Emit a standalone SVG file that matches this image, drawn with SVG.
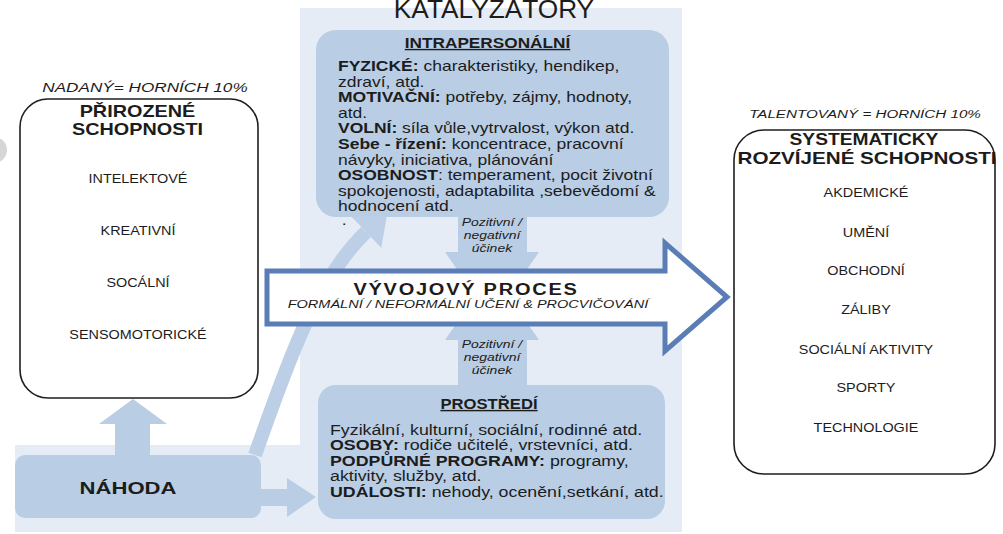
<svg xmlns="http://www.w3.org/2000/svg" width="1003" height="534" viewBox="0 0 1003 534">
<style>
.t{font-family:"Liberation Sans",Arial,sans-serif;fill:#1c1c1c}
.b{font-weight:bold}
.i{font-style:italic}
.item{font-size:12px;text-anchor:middle}
.body{font-size:14px}
.pn{font-size:10.5px;font-style:italic;text-anchor:middle}
.panel{fill:#e5ecf5}
.box{fill:#b9cde4}
.arr{fill:#b9cde4}
.nbox{fill:#fff;stroke:#1e1e1e;stroke-width:1.6}
</style>
<defs>
<marker id="dhead" markerUnits="userSpaceOnUse" markerWidth="30" markerHeight="44" refX="0" refY="22" orient="auto">
<path d="M0,0 L30,22 L0,44 z" fill="#bccfe6"/>
</marker>
</defs>

<g id="background">
<rect class="panel" x="300" y="8" width="382" height="524"/>
<rect class="panel" x="15" y="445" width="290" height="87"/>
<circle cx="-6" cy="150" r="13" fill="#d6d6d6"/>
</g>

<g id="connectors">
<path d="M255,455 C290,355 318,278 366,232" fill="none" stroke="#bccfe6" stroke-width="14" marker-end="url(#dhead)"/>
<polygon class="arr" points="115,460 115,424 99,424 133,399 167,424 150,424 150,460"/>
<polygon class="arr" points="250,489 287,489 287,478 316,497 287,517 287,506 250,506"/>
<polygon class="arr" points="458,210 527,210 527,252 539,252 492,320 445,252 458,252"/>
<polygon class="arr" points="458,390 527,390 527,340 539,340 492,272 445,340 458,340"/>
</g>

<g id="katalyzatory-title">
<text class="t" x="494" y="18" font-size="25" text-anchor="middle" transform="matrix(1.05,0,0,1,-24.7,0)">KATALYZÁTORY</text>
</g>

<g id="intrapersonalni">
<rect class="box" x="316" y="30" width="353" height="187" rx="20"/>
<text class="t b" x="487.5" y="48" font-size="14" text-anchor="middle" text-decoration="underline" transform="matrix(1.23,0,0,1,-112.1,0)">INTRAPERSONÁLNÍ</text>
<g transform="matrix(1.25,0,0,1,338,0)">
<text class="t body" x="0" y="71"><tspan class="b">FYZICKÉ:</tspan> charakteristiky, hendikep,</text>
<text class="t body" x="0" y="86.6">zdraví, atd.</text>
<text class="t body" x="0" y="102.2"><tspan class="b">MOTIVAČNÍ:</tspan> potřeby, zájmy, hodnoty,</text>
<text class="t body" x="0" y="117.8">atd.</text>
<text class="t body" x="0" y="133.4"><tspan class="b">VOLNÍ:</tspan> síla vůle,vytrvalost, výkon atd.</text>
<text class="t body" x="0" y="149"><tspan class="b">Sebe - řízení:</tspan> koncentrace, pracovní</text>
<text class="t body" x="0" y="164.6">návyky, iniciativa, plánování</text>
<text class="t body" x="0" y="180.2"><tspan class="b">OSOBNOST</tspan>: temperament, pocit životní</text>
<text class="t body" x="0" y="195.8">spokojenosti, adaptabilita ,sebevědomí &amp;</text>
<text class="t body" x="0" y="211.4">hodnocení atd.</text>
<text class="t body" x="3" y="225">.</text>
</g>
</g>

<g id="ucinek-top" transform="matrix(1.33,0,0,1,-162.4,0)">
<text class="t pn" x="492" y="226">Pozitivní /</text>
<text class="t pn" x="492" y="239">negativní</text>
<text class="t pn" x="492" y="252">účinek</text>
</g>

<g id="vyvojovy-proces">
<polygon points="267,271 665,271 665,243 727,297 665,351 665,324 267,324" fill="#fff" stroke="#5b7db5" stroke-width="5" stroke-linejoin="miter"/>
<text class="t b" x="466" y="295" font-size="16" letter-spacing="1.4" text-anchor="middle" transform="matrix(1.25,0,0,1,-116.5,0)">VÝVOJOVÝ  PROCES</text>
<text class="t i" x="468" y="308" font-size="11" text-anchor="middle" transform="matrix(1.32,0,0,1,-149.8,0)">FORMÁLNÍ / NEFORMÁLNÍ UČENÍ &amp; PROCVIČOVÁNÍ</text>
</g>

<g id="ucinek-bottom" transform="matrix(1.33,0,0,1,-162.4,0)">
<text class="t pn" x="492" y="348">Pozitivní /</text>
<text class="t pn" x="492" y="361">negativní</text>
<text class="t pn" x="492" y="374">účinek</text>
</g>

<g id="prostredi">
<rect class="box" x="318" y="385" width="347" height="134" rx="18"/>
<text class="t b" x="489" y="409" font-size="14" text-anchor="middle" text-decoration="underline" transform="matrix(1.19,0,0,1,-92.9,0)">PROSTŘEDÍ</text>
<g transform="matrix(1.27,0,0,1,330,0)">
<text class="t body" x="0" y="435">Fyzikální, kulturní, sociální, rodinné atd.</text>
<text class="t body" x="0" y="450.5"><tspan class="b">OSOBY:</tspan> rodiče učitelé, vrstevníci, atd.</text>
<text class="t body" x="0" y="466"><tspan class="b">PODPŮRNÉ PROGRAMY:</tspan>  programy,</text>
<text class="t body" x="0" y="481.5">aktivity, služby, atd.</text>
<text class="t body" x="0" y="497"><tspan class="b">UDÁLOSTI:</tspan> nehody, ocenění,setkání, atd.</text>
</g>
</g>

<g id="nahoda">
<rect class="box" x="15" y="455" width="246" height="63" rx="10"/>
<text class="t b" x="128" y="494" font-size="17" fill="#1f2937" text-anchor="middle" transform="matrix(1.3,0,0,1,-38.4,0)">NÁHODA</text>
</g>

<g id="prirozene-schopnosti">
<text class="t i" x="145" y="92" font-size="12" text-anchor="middle" transform="matrix(1.43,0,0,1,-62.35,0)">NADANÝ= HORNÍCH 10%</text>
<rect class="nbox" x="20" y="99" width="238" height="299" rx="28"/>
<g transform="matrix(1.24,0,0,1,-33,0)">
<text class="t b" x="137.5" y="117" font-size="16" text-anchor="middle">PŘIROZENÉ</text>
<text class="t b" x="137.5" y="135" font-size="16" text-anchor="middle">SCHOPNOSTI</text>
</g>
<g transform="matrix(1.2,0,0,1,-27.6,0)">
<text class="t item" x="138" y="183">INTELEKTOVÉ</text>
<text class="t item" x="138" y="235">KREATIVNÍ</text>
<text class="t item" x="138" y="287">SOCÁLNÍ</text>
<text class="t item" x="138" y="339">SENSOMOTORICKÉ</text>
</g>
</g>

<g id="systematicky-rozvijene-schopnosti">
<text class="t i" x="865" y="118" font-size="11.5" text-anchor="middle" transform="matrix(1.32,0,0,1,-276.8,0)">TALENTOVANÝ = HORNÍCH 10%</text>
<rect class="nbox" x="734" y="130" width="261" height="344" rx="30"/>
<text class="t b" x="864" y="145" font-size="16" text-anchor="middle" transform="matrix(1.2,0,0,1,-172.8,0)">SYSTEMATICKY</text>
<text class="t b" x="867" y="164" font-size="16" text-anchor="middle" transform="matrix(1.29,0,0,1,-251.43,0)">ROZVÍJENÉ SCHOPNOSTI</text>
<g transform="matrix(1.2,0,0,1,-173.2,0)">
<text class="t item" x="866" y="197">AKDEMICKÉ</text>
<text class="t item" x="866" y="237">UMĚNÍ</text>
<text class="t item" x="866" y="275">OBCHODNÍ</text>
<text class="t item" x="866" y="314">ZÁLIBY</text>
<text class="t item" x="866" y="354">SOCIÁLNÍ AKTIVITY</text>
<text class="t item" x="866" y="392">SPORTY</text>
<text class="t item" x="866" y="432">TECHNOLOGIE</text>
</g>
</g>
</svg>
